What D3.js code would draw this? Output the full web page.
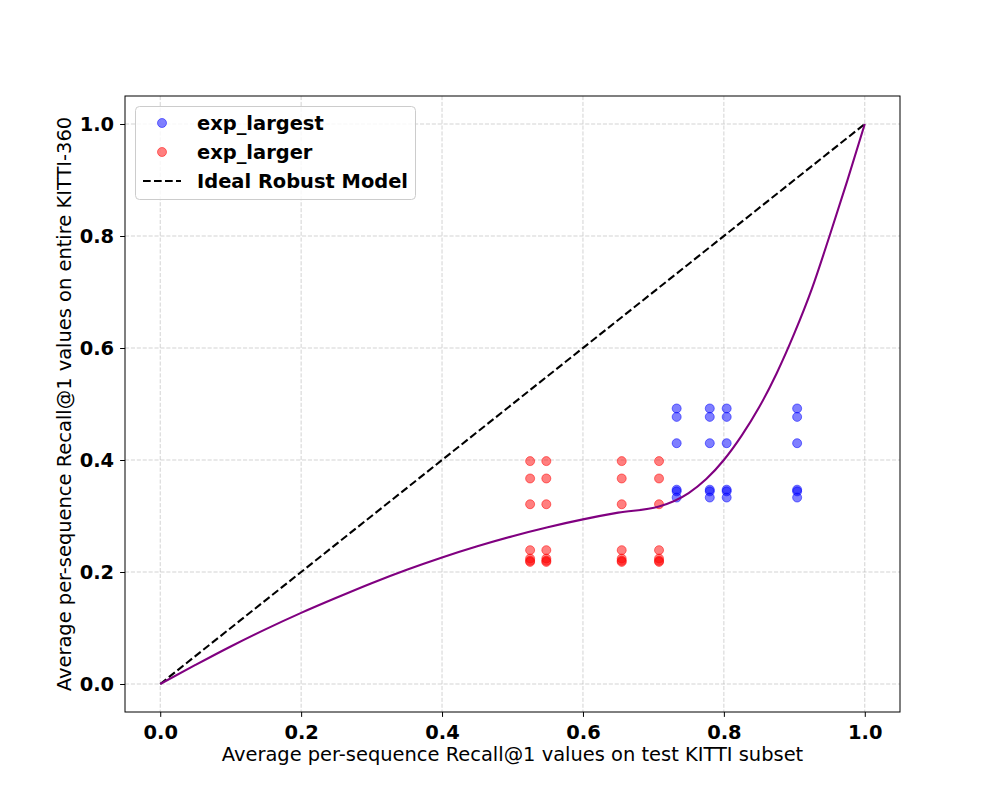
<!DOCTYPE html>
<html><head><meta charset="utf-8">
<script src="https://cdn.jsdelivr.net/npm/d3@7"></script>
<style>body{margin:0;background:#fff}svg{display:block;font-family:"DejaVu Sans",sans-serif}</style>
</head><body><svg id="c" width="1000" height="800"></svg>
<script>
// exp_largest points
const largestX = [0.733,0.733,0.733,0.733,0.733,0.733, 0.780,0.780,0.780,0.780,0.780,0.780, 0.804,0.804,0.804,0.804,0.804,0.804, 0.904,0.904,0.904,0.904,0.904,0.904];
const largestY = [0.492,0.477,0.430,0.347,0.344,0.333, 0.492,0.477,0.430,0.347,0.344,0.333, 0.492,0.477,0.430,0.347,0.344,0.333, 0.492,0.477,0.430,0.347,0.344,0.333];
// exp_larger points
const largerX = [0.525,0.525,0.525,0.525,0.525,0.525,0.525, 0.548,0.548,0.548,0.548,0.548,0.548,0.548, 0.655,0.655,0.655,0.655,0.655,0.655,0.655, 0.708,0.708,0.708,0.708,0.708,0.708,0.708];
const largerY = [0.398,0.367,0.321,0.239,0.224,0.220,0.218, 0.398,0.367,0.321,0.239,0.224,0.220,0.218, 0.398,0.367,0.321,0.239,0.224,0.220,0.218, 0.398,0.367,0.321,0.239,0.224,0.220,0.218];
// fitted curve
const curveX = [0, 0.05, 0.1, 0.15, 0.2, 0.25, 0.3, 0.35, 0.4, 0.45, 0.5, 0.55, 0.6, 0.65, 0.708, 0.75, 0.775, 0.8, 0.825, 0.85, 0.875, 0.9, 0.925, 0.95, 0.975, 1.0];
const curveY = [0, 0.034, 0.067, 0.098, 0.127, 0.154, 0.180, 0.204, 0.226, 0.246, 0.264, 0.280, 0.294, 0.306, 0.317, 0.341, 0.366, 0.400, 0.443, 0.494, 0.555, 0.626, 0.706, 0.800, 0.898, 1.0];
// ideal line
const idealX = [0, 1];
const idealY = [0, 1];
const ticks = [0, 0.2, 0.4, 0.6, 0.8, 1.0];
const seriesNames = ["exp_largest", "exp_larger", "Ideal Robust Model"];
const xLabel = "Average per-sequence Recall@1 values on test KITTI subset";
const yLabel = "Average per-sequence Recall@1 values on entire KITTI-360";

const FS = 19.44;
const svg = d3.select("#c");
const L = 125, R = 900, T = 96, B = 712;
const x = d3.scaleLinear().domain([-0.05, 1.05]).range([L, R]);
const y = d3.scaleLinear().domain([-0.05, 1.05]).range([B, T]);

// grid
const g = svg.append("g");
g.selectAll(".gx").data(ticks).join("line")
  .attr("x1", d => x(d)).attr("x2", d => x(d)).attr("y1", T).attr("y2", B)
  .attr("stroke", "#b0b0b0").attr("stroke-opacity", 0.7).attr("stroke-width", 0.8).attr("stroke-dasharray", "4.1,1.8");
g.selectAll(".gy").data(ticks).join("line")
  .attr("y1", d => y(d)).attr("y2", d => y(d)).attr("x1", L).attr("x2", R)
  .attr("stroke", "#b0b0b0").attr("stroke-opacity", 0.7).attr("stroke-width", 0.8).attr("stroke-dasharray", "4.1,1.8");

// scatter
const blue = largestX.map((v, i) => [v, largestY[i]]);
const red = largerX.map((v, i) => [v, largerY[i]]);
svg.append("g").selectAll("circle").data(blue).join("circle")
  .attr("cx", d => x(d[0])).attr("cy", d => y(d[1])).attr("r", 4.5)
  .attr("fill", "rgb(0,0,255)").attr("fill-opacity", 0.5).attr("stroke", "rgb(0,0,255)").attr("stroke-opacity", 0.5).attr("stroke-width", 1);
svg.append("g").selectAll("circle").data(red).join("circle")
  .attr("cx", d => x(d[0])).attr("cy", d => y(d[1])).attr("r", 4.5)
  .attr("fill", "rgb(255,0,0)").attr("fill-opacity", 0.5).attr("stroke", "rgb(255,0,0)").attr("stroke-opacity", 0.5).attr("stroke-width", 1);

// ideal
const line = d3.line().x(d => x(d[0])).y(d => y(d[1]));
svg.append("path").attr("d", line(idealX.map((v, i) => [v, idealY[i]])))
  .attr("fill", "none").attr("stroke", "#000").attr("stroke-width", 2.08).attr("stroke-dasharray", "7.7,3.3");
// curve
svg.append("path").attr("d", line.curve(d3.curveMonotoneX)(curveX.map((v, i) => [v, curveY[i]])))
  .attr("fill", "none").attr("stroke", "purple").attr("stroke-width", 2.08);

// axes
const xa = svg.append("g").attr("transform", `translate(0,${B})`)
  .call(d3.axisBottom(x).tickValues(ticks).tickFormat(d3.format(".1f")).tickSize(4.9).tickPadding(5));
const ya = svg.append("g").attr("transform", `translate(${L},0)`)
  .call(d3.axisLeft(y).tickValues(ticks).tickFormat(d3.format(".1f")).tickSize(4.9).tickPadding(6));
[xa, ya].forEach(a => {
  a.select(".domain").remove();
  a.selectAll("line").attr("stroke", "#000").attr("stroke-width", 1);
  a.selectAll("text").attr("font-family", "DejaVu Sans").attr("font-size", FS).attr("font-weight", "bold").attr("fill", "#000");
});
xa.selectAll("text").attr("dy", "0.9em");
svg.append("rect").attr("x", L).attr("y", T).attr("width", R - L).attr("height", B - T)
  .attr("fill", "none").attr("stroke", "#000").attr("stroke-width", 1);

// labels
svg.append("text").attr("x", (L + R) / 2).attr("y", 761).attr("text-anchor", "middle")
  .attr("font-size", FS).text(xLabel);
svg.append("text").attr("transform", `translate(71,${(T + B) / 2}) rotate(-90)`).attr("text-anchor", "middle")
  .attr("font-size", FS).text(yLabel);

// legend
const lg = svg.append("g");
lg.append("rect").attr("x", 135.5).attr("y", 106.5).attr("width", 280).attr("height", 93).attr("rx", 4)
  .attr("fill", "#fff").attr("fill-opacity", 0.8).attr("stroke", "#cccccc").attr("stroke-width", 1);
const ly = [123, 152, 181];
lg.append("circle").attr("cx", 162).attr("cy", ly[0]).attr("r", 4.5).attr("fill", "rgb(0,0,255)").attr("fill-opacity", 0.5).attr("stroke", "rgb(0,0,255)").attr("stroke-opacity", 0.5);
lg.append("circle").attr("cx", 162).attr("cy", ly[1]).attr("r", 4.5).attr("fill", "rgb(255,0,0)").attr("fill-opacity", 0.5).attr("stroke", "rgb(255,0,0)").attr("stroke-opacity", 0.5);
lg.append("line").attr("x1", 143).attr("x2", 181).attr("y1", ly[2]).attr("y2", ly[2])
  .attr("stroke", "#000").attr("stroke-width", 2.08).attr("stroke-dasharray", "7.7,3.3");
seriesNames.forEach((n, i) => {
  lg.append("text").attr("x", 197).attr("y", ly[i]).attr("dy", "0.35em")
    .attr("font-size", FS).attr("font-weight", "bold").text(n);
});
</script></body></html>
